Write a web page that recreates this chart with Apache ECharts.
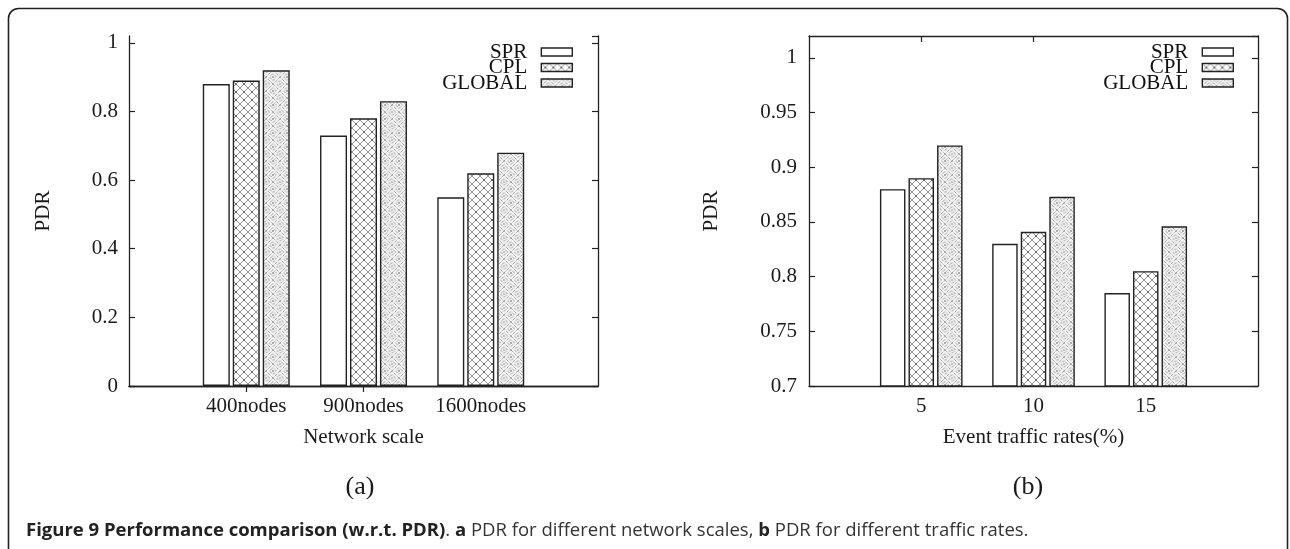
<!DOCTYPE html>
<html>
<head>
<meta charset="utf-8">
<script src="https://cdn.jsdelivr.net/npm/echarts@6/dist/echarts.min.js"></script>
<style>
html,body{margin:0;padding:0;background:#fff;}
#chart{width:1290px;height:549px;}
</style>
</head>
<body>
<div id="chart"></div>
<script>
// ---- data ----
const seriesNames = ['SPR', 'CPL', 'GLOBAL'];
const catsA = ['400nodes', '900nodes', '1600nodes'];
const sprA = [0.88, 0.73, 0.55];
const cplA = [0.89, 0.78, 0.62];
const globalA = [0.92, 0.83, 0.68];
const catsB = ['5', '10', '15'];
const sprB = [0.88, 0.83, 0.785];
const cplB = [0.89, 0.841, 0.805];
const globalB = [0.92, 0.873, 0.846];
const xTitleA = 'Network scale';
const xTitleB = 'Event traffic rates(%)';
const yTitle = 'PDR';
const panelA = '(a)';
const panelB = '(b)';

// ---- patterns ----
function makeCPL() {
  const c = document.createElement('canvas');
  c.width = 8; c.height = 8;
  const g = c.getContext('2d');
  g.fillStyle = '#fff'; g.fillRect(0, 0, 8, 8);
  g.strokeStyle = '#888'; g.lineWidth = 0.9;
  g.beginPath();
  g.moveTo(0, 0); g.lineTo(8, 8);
  g.moveTo(8, 0); g.lineTo(0, 8);
  g.stroke();
  g.fillStyle = '#444';
  g.fillRect(3.3, 3.3, 1.4, 1.4);
  return c;
}
function makeGLOBAL() {
  const s = 14;
  const c = document.createElement('canvas');
  c.width = s; c.height = s;
  const g = c.getContext('2d');
  g.fillStyle = '#f4f4f4'; g.fillRect(0, 0, s, s);
  g.strokeStyle = '#7a7a7a'; g.lineWidth = 1;
  g.setLineDash([1, 1]);
  function diamond(cx, cy, r) {
    g.beginPath();
    g.moveTo(cx, cy - r); g.lineTo(cx + r, cy); g.lineTo(cx, cy + r); g.lineTo(cx - r, cy); g.closePath();
    g.stroke();
  }
  diamond(7, 7, 7);
  diamond(7, 7, 3.5);
  [[0,0],[s,0],[0,s],[s,s]].forEach(p => diamond(p[0], p[1], 3.5));
  g.setLineDash([]);
  g.fillStyle = '#666';
  g.fillRect(6.3, 6.3, 1.4, 1.4);
  g.fillStyle = '#888';
  [[0,0],[s,0],[0,s],[s,s]].forEach(p => g.fillRect(p[0]-0.7, p[1]-0.7, 1.4, 1.4));
  return c;
}
const patCPL = { image: makeCPL(), repeat: 'repeat' };
const patGLOBAL = { image: makeGLOBAL(), repeat: 'repeat' };
const fills = ['#ffffff', patCPL, patGLOBAL];

const serif = '"Liberation Serif", "DejaVu Serif", serif';
const axisColor = '#222';
const txtColor = '#1a1a1a';
const FS = 21;

function pad(arr) { return [null].concat(arr).concat([null]); }
function padCat(arr) { return [''].concat(arr).concat(['']); }

const grids = [
  { left: 129, right: 692, top: 36, bottom: 163 },
  { left: 809, right: 32, top: 36, bottom: 163 }
];

function xAxes(cats, gi, title, labelMargin) {
  return [
    {
      type: 'category', gridIndex: gi, position: 'bottom', boundaryGap: false,
      data: padCat(cats),
      axisLine: { show: true, lineStyle: { color: axisColor, width: 1.3 } },
      axisTick: { show: false },
      axisLabel: { color: txtColor, fontFamily: serif, fontSize: FS, margin: labelMargin, interval: 0 },
      splitLine: { show: false },
      name: title, nameLocation: 'middle', nameGap: 41,
      nameTextStyle: { color: txtColor, fontFamily: serif, fontSize: FS }
    },
    {
      type: 'category', gridIndex: gi, position: 'top', boundaryGap: false,
      data: padCat(cats),
      axisLine: { show: true, lineStyle: { color: axisColor, width: 1.3 } },
      axisTick: { show: true, inside: true, length: 6, lineStyle: { color: axisColor, width: 1.2 },
        interval: function (idx) { return idx === 1 || idx === 2; } },
      axisLabel: { show: false },
      splitLine: { show: false }
    }
  ];
}
function yAxes(gi, min, max, interval, nameGap, labelMargin, fmt) {
  return [
    {
      type: 'value', gridIndex: gi, position: 'left', min: min, max: max, interval: interval,
      axisLine: { show: true, lineStyle: { color: axisColor, width: 1.3 } },
      axisTick: { show: true, inside: true, length: 6, lineStyle: { color: axisColor, width: 1.2 } },
      axisLabel: { color: txtColor, fontFamily: serif, fontSize: FS, margin: labelMargin, showMaxLabel: false, formatter: fmt },
      splitLine: { show: false },
      name: yTitle, nameLocation: 'middle', nameGap: nameGap,
      nameTextStyle: { color: txtColor, fontFamily: serif, fontSize: FS }
    },
    {
      type: 'value', gridIndex: gi, position: 'right', min: min, max: max, interval: interval,
      axisLine: { show: true, lineStyle: { color: axisColor, width: 1.3 } },
      axisTick: { show: true, inside: true, length: 6, lineStyle: { color: axisColor, width: 1.2 } },
      axisLabel: { show: false },
      splitLine: { show: false }
    }
  ];
}

function barSeries(gi, xi, yi, dataArrs, width, gap) {
  return dataArrs.map((d, k) => ({
    type: 'bar', name: seriesNames[k], xAxisIndex: xi, yAxisIndex: yi,
    data: pad(d), barWidth: width, barGap: gap,
    itemStyle: { color: fills[k], borderColor: '#222', borderWidth: 1.4 },
    emphasis: { disabled: true },
    silent: true
  }));
}

function legendFor(gi, right) {
  return {
    data: seriesNames.map(n => ({ name: n, icon: 'rect' })),
    orient: 'vertical', align: 'right', right: right, top: 41.5,
    padding: 0, itemGap: -5.5, itemWidth: 31, itemHeight: 8,
    itemStyle: { borderColor: '#222', borderWidth: 1.4 },
    textStyle: { color: '#111', fontFamily: serif, fontSize: FS, padding: [0, 9, 0, 0] },
    selectedMode: false
  };
}

const chart = echarts.init(document.getElementById('chart'), null, { renderer: 'canvas' });
const fmt = v => String(+v.toFixed(2));

const option = {
  backgroundColor: '#fff',
  animation: false,
  grid: grids,
  xAxis: xAxes(catsA, 0, xTitleA, 10).concat(xAxes(catsB, 1, xTitleB, 10)),
  yAxis: yAxes(0, 0, 1.02, 0.2, 75, 11, fmt).concat(yAxes(1, 0.7, 1.02, 0.05, 87, 12, fmt)),
  legend: [legendFor(0, 717), legendFor(1, 56)],
  series: barSeries(0, 0, 0, [sprA, cplA, globalA], 27, '11%')
    .concat(barSeries(1, 2, 2, [sprB, cplB, globalB], 25.5, '12%')),
  graphic: [
    { type: 'rect', silent: true, shape: { x: 8.5, y: 8.5, width: 1279, height: 620, r: 10 },
      style: { fill: 'none', stroke: '#222', lineWidth: 1.6 } },
    { type: 'text', x: 360, y: 487, silent: true,
      style: { text: panelA, font: '26px ' + serif, fill: txtColor, align: 'center', verticalAlign: 'middle' } },
    { type: 'text', x: 1028, y: 487, silent: true,
      style: { text: panelB, font: '26px ' + serif, fill: txtColor, align: 'center', verticalAlign: 'middle' } },
    { type: 'text', x: 26, y: 531, silent: true,
      style: {
        text: '{b|Figure 9 Performance comparison (w.r.t. PDR)}. {b|a} PDR for different network scales, {b|b} PDR for different traffic rates.',
        fontFamily: '"Open Sans", sans-serif', fontSize: 18.5, fill: '#333', verticalAlign: 'middle', align: 'left',
        rich: { b: { fontFamily: '"Open Sans", sans-serif', fontSize: 18.5, fontWeight: 'bold', fill: '#222' } }
      } }
  ]
};
chart.setOption(option);
</script>
</body>
</html>
